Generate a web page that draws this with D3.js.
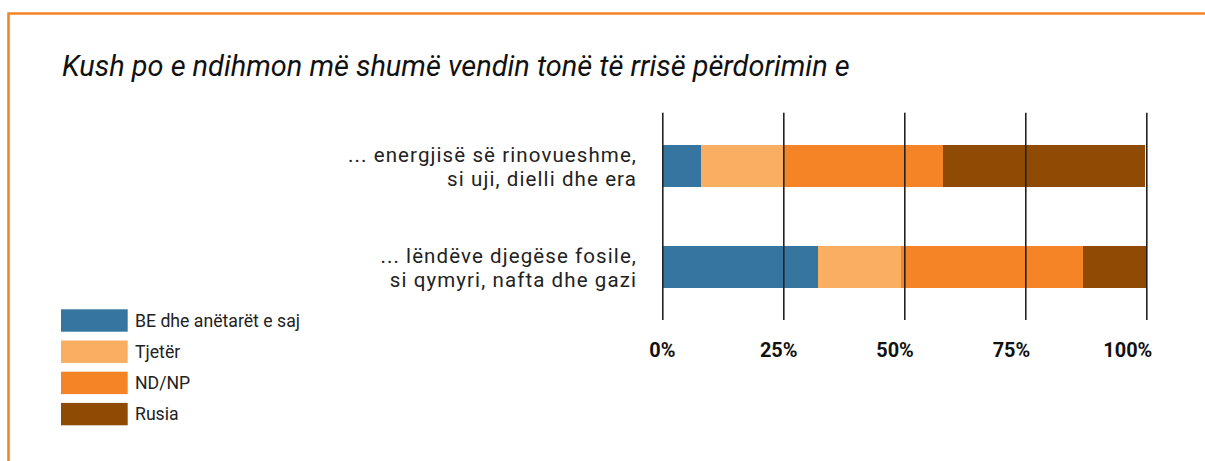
<!DOCTYPE html>
<html>
<head>
<meta charset="utf-8">
<script src="https://cdn.jsdelivr.net/npm/d3@7"></script>
<style>
  html, body { margin: 0; padding: 0; background: #fff; }
  svg { display: block; }
</style>
</head>
<body>
<svg id="chart" width="1205" height="461"></svg>
<script>
// ---- data ----
const title = "Kush po e ndihmon më shumë vendin tonë të rrisë përdorimin e";
const categories = ["renewable", "fossil"];
const categoryLabels = [
  ["... energjisë së rinovueshme,", "si uji, dielli dhe era"],
  ["... lëndëve djegëse fosile,", "si qymyri, nafta dhe gazi"]
];
const seriesNames = ["BE dhe anëtarët e saj", "Tjetër", "ND/NP", "Rusia"];
const seriesColors = ["#35759f", "#f9ae62", "#f58426", "#8f4a04"];
const valuesBE     = [8.0, 32.2];
const valuesTjeter = [17.0, 17.1];
const valuesNDNP   = [33.0, 37.6];
const valuesRusia  = [41.7, 13.1];
const tickValues = [0, 25, 50, 75, 100];
const tickLabels = ["0%", "25%", "50%", "75%", "100%"];

// ---- build table ----
const seriesValues = [valuesBE, valuesTjeter, valuesNDNP, valuesRusia];
const table = categories.map((c, i) => {
  const row = { cat: c };
  seriesNames.forEach((s, j) => row[s] = seriesValues[j][i]);
  return row;
});
const stacked = d3.stack().keys(seriesNames)(table);

const svg = d3.select("#chart");

// border
svg.append("path")
  .attr("d", "M8.5,470 L8.5,13.5 L1210,13.5")
  .attr("fill", "none")
  .attr("stroke", "#f58426")
  .attr("stroke-width", 2.6);

function fit(sel, target) {
  const n = sel.node();
  const fs = parseFloat(sel.style("font-size"));
  const w = n.getComputedTextLength();
  sel.style("font-size", (fs * target / w) + "px");
}

// title
const t = svg.append("text")
  .attr("x", 62).attr("y", 76)
  .style("font-family", "Roboto, sans-serif")
  .style("font-style", "italic")
  .style("font-size", "24px")
  .attr("fill", "#111")
  .text(title);
fit(t, 788);

// scales
const x = d3.scaleLinear().domain([0, 100]).range([662.3, 1146.3]);
const xLabel = d3.scaleLinear().domain([0, 100]).range([662.3, 1127.8]);
const y = d3.scaleBand().domain(categories).range([112.7, 320])
  .paddingInner(0.587).paddingOuter(0.32);
const color = d3.scaleOrdinal().domain(seriesNames).range(seriesColors);

// bars
svg.append("g").selectAll("g").data(stacked).join("g")
  .attr("fill", d => color(d.key))
  .selectAll("rect").data(d => d).join("rect")
  .attr("x", d => x(d[0]))
  .attr("width", d => x(d[1]) - x(d[0]))
  .attr("y", d => y(d.data.cat))
  .attr("height", y.bandwidth())
  .attr("shape-rendering", "crispEdges");

// gridlines (on top)
const xAxis = d3.axisBottom(x).tickValues(tickValues).tickSize(320 - 112.7).tickFormat("");
const gx = svg.append("g").attr("transform", "translate(0,112.7)").call(xAxis);
gx.select(".domain").remove();
gx.selectAll(".tick line").attr("stroke", "#222").attr("stroke-width", 1.6);

// tick labels
const tl = svg.append("g").selectAll("text").data(tickValues).join("text")
  .attr("x", d => xLabel(d))
  .attr("y", 357)
  .attr("text-anchor", "middle")
  .style("font-family", "Roboto, sans-serif")
  .style("font-weight", "700")
  .style("font-size", "20px")
  .attr("fill", "#111")
  .text((d, i) => tickLabels[i]);
fit(d3.select(tl.nodes()[4]), 49);
tl.style("font-size", d3.select(tl.nodes()[4]).style("font-size"));

// category labels
const cl = svg.append("g").selectAll("text").data(categories).join("text")
  .attr("text-anchor", "end")
  .style("font-family", "Roboto, sans-serif")
  .style("font-size", "20.5px")
  .attr("fill", "#222");
cl.selectAll("tspan").data((d, i) => categoryLabels[i].map(l => ({ l, c: d })))
  .join("tspan")
  .attr("x", 637)
  .attr("y", (d, j) => y(d.c) + y.bandwidth() / 2 - 3.5 + j * 24)
  .text(d => d.l);
{
  const first = cl.select("tspan");
  const w = first.node().getComputedTextLength();
  const n = categoryLabels[0][0].length;
  cl.style("letter-spacing", ((289 - w) / n) + "px");
}

// legend
const lg = svg.append("g");
const ly = d3.scaleBand().domain(seriesNames).range([309.3, 425.3]).paddingInner(0.282).paddingOuter(0);
lg.selectAll("rect").data(seriesNames).join("rect")
  .attr("x", 61).attr("width", 66.7)
  .attr("y", d => ly(d)).attr("height", ly.bandwidth())
  .attr("fill", d => color(d));
const lt = lg.selectAll("text").data(seriesNames).join("text")
  .attr("x", 135)
  .attr("y", d => ly(d) + ly.bandwidth() / 2)
  .attr("dy", "0.35em")
  .style("font-family", "Roboto, sans-serif")
  .style("font-size", "16px")
  .attr("fill", "#222")
  .text(d => d);
fit(d3.select(lt.nodes()[0]), 165);
lt.style("font-size", d3.select(lt.nodes()[0]).style("font-size"));
</script>
</body>
</html>
